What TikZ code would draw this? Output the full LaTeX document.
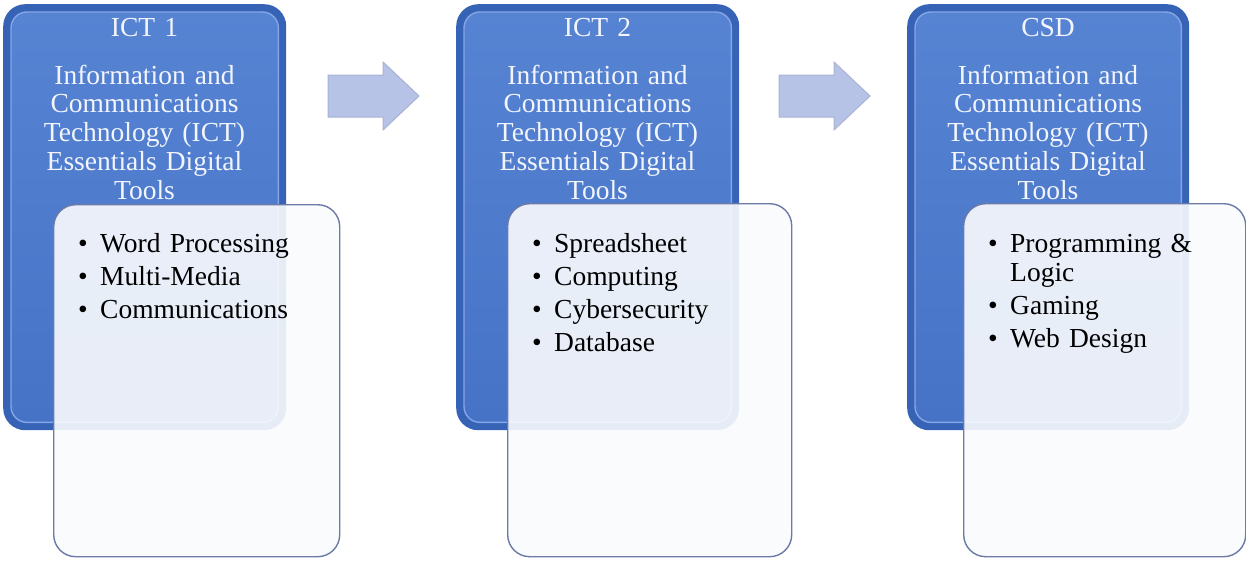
\documentclass[tikz,border=0pt]{standalone}
\usepackage{fontspec}
\setmainfont{Liberation Serif}
\definecolor{blueedge}{HTML}{3763B6}
\definecolor{bluetop}{HTML}{5783D3}
\definecolor{bluebot}{HTML}{4773C7}
\definecolor{bluehi}{HTML}{84A6E6}
\definecolor{wfill}{HTML}{FAFBFD}
\definecolor{wedge}{HTML}{6B7AA6}
\definecolor{arrfill}{HTML}{B6C3E7}
\definecolor{arredge}{HTML}{A8B3D4}
\definecolor{titlecol}{HTML}{F2F5FC}
\newcommand\bul[1]{\hangindent=22pt\hangafter=1\noindent\makebox[22pt][l]{\textbullet}#1\par}
\tikzset{
  bluebox/.style={fill=blueedge, rounded corners=22pt, inner sep=0pt, anchor=north west},
  bevel/.style={top color=bluetop, bottom color=bluebot, draw=bluehi, line width=1.4pt, rounded corners=16pt},
  whitebox/.style={fill=wfill, fill opacity=0.9, draw=wedge, line width=1.4pt, draw opacity=1, rounded corners=22pt, inner sep=0pt, anchor=north west},
  titletext/.style={text=titlecol, text width=272pt, align=center, inner sep=0pt, anchor=base,
    font=\fontsize{27.5}{28.75}\selectfont},
  bullettext/.style={text=black, text width=250pt, align=left, inner sep=0pt, anchor=base west,
    font=\fontsize{27.5}{29.5}\selectfont},
  blockarrow/.pic={\filldraw[fill=arrfill, draw=arredge, line width=1pt]
    (0,-21) -- (55,-21) -- (55,-34) -- (91,0) -- (55,34) -- (55,21) -- (0,21) -- cycle;}
}
\begin{document}
\begin{tikzpicture}[x=1pt, y=-1pt]
\useasboundingbox (0,0) rectangle (1246,562);
% blue boxes
\node[bluebox, minimum width=283pt, minimum height=426pt] (b1) at (3,4) {};
\node[bluebox, minimum width=283pt, minimum height=426pt] (b2) at (456,4) {};
\node[bluebox, minimum width=282pt, minimum height=426pt] (b3) at (907,4) {};
\foreach \b in {b1,b2,b3}{
  \path[bevel] ([shift={(8,8)}]\b.north west) rectangle ([shift={(-8,-8)}]\b.south east);
}
% titles
\node[titletext] (t1) at (144.5,36) {ICT 1\\[19.25pt]Information and\\Communications\\Technology (ICT)\\Essentials Digital\\Tools};
\node[titletext] (t2) at (597.5,36) {ICT 2\\[19.25pt]Information and\\Communications\\Technology (ICT)\\Essentials Digital\\Tools};
\node[titletext] (t3) at (1048,36) {CSD\\[19.25pt]Information and\\Communications\\Technology (ICT)\\Essentials Digital\\Tools};
% white boxes
\node[whitebox, minimum width=286pt, minimum height=352pt] (w1) at (53,204) {};
\node[whitebox, minimum width=284pt, minimum height=353pt] (w2) at (507,203) {};
\node[whitebox, minimum width=282pt, minimum height=353pt] (w3) at (963,203) {};
% bullet lists
\node[bullettext] (l1) at (78,252) {\setlength\parskip{3.5pt}\bul{Word Processing}\bul{Multi-Media}\bul{Communications}};
\node[bullettext] (l2) at (532,252) {\setlength\parskip{3.5pt}\bul{Spreadsheet}\bul{Computing}\bul{Cybersecurity}\bul{Database}};
\node[bullettext] (l3) at (988,252) {\setlength\parskip{3.5pt}\bul{Programming \&}\vspace{-3.5pt}\noindent\hspace*{22pt}Logic\par\bul{Gaming}\bul{Web Design}};
% block arrows
\pic at (328,96) {blockarrow};
\pic at (779,96) {blockarrow};
\end{tikzpicture}
\end{document}
